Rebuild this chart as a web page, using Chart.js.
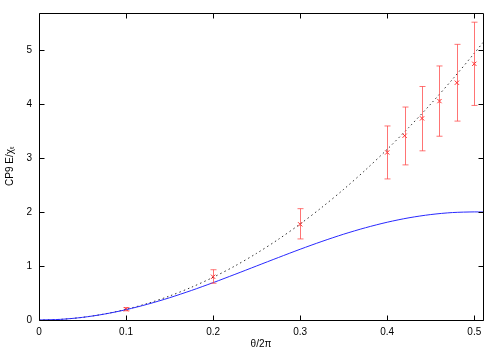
<!DOCTYPE html>
<html>
<head>
<meta charset="utf-8">
<script src="https://cdn.jsdelivr.net/npm/chart.js@4"></script>
<style>
  html, body { margin: 0; padding: 0; background: #fff; }
  #wrap { width: 500px; height: 350px; }
</style>
</head>
<body>
<div id="wrap"><canvas id="main-chart"></canvas></div>
<script>
// curve samples (theta/2pi)
const curveX = [0, 0.025, 0.05, 0.075, 0.1, 0.125, 0.15, 0.175, 0.2, 0.225, 0.25, 0.275, 0.3,
                0.325, 0.35, 0.375, 0.4, 0.425, 0.45, 0.475, 0.5, 0.51]
// blue solid curve
const blueY = [0, 0.012, 0.049, 0.109, 0.191, 0.293, 0.412, 0.546, 0.691, 0.844, 1.0, 1.156, 1.309,
               1.454, 1.588, 1.707, 1.809, 1.891, 1.951, 1.988, 2.0, 1.998]
// black dotted curve
const dottedY = [0, 0.012, 0.049, 0.111, 0.197, 0.308, 0.444, 0.605, 0.79, 0.999, 1.234, 1.493, 1.777,
                 2.085, 2.418, 2.776, 3.158, 3.566, 3.997, 4.454, 4.935, 5.134]

// measured points with errors
const pointX = [0.1, 0.2, 0.3, 0.4, 0.42, 0.44, 0.46, 0.48, 0.5]
const pointY = [0.2, 0.8, 1.77, 3.1, 3.41, 3.73, 4.05, 4.39, 4.74]
const pointLo = [0.17, 0.68, 1.5, 2.61, 2.87, 3.13, 3.4, 3.68, 3.97]
const pointHi = [0.23, 0.93, 2.06, 3.59, 3.94, 4.32, 4.7, 5.1, 5.51]

const xTicks = [0, 0.1, 0.2, 0.3, 0.4, 0.5]
const yTicks = [0, 1, 2, 3, 4, 5]

const toXY = (xs, ys) => xs.map((x, i) => ({ x: x, y: ys[i] }))

// error bars, drawn with the chart scales
const errorBars = {
    id: 'errorBars',
    afterDatasetsDraw(chart) {
        const ctx = chart.ctx
        const xs = chart.scales.x
        const ys = chart.scales.y
        ctx.save()
        ctx.strokeStyle = 'rgba(255, 70, 70, 0.75)'
        ctx.lineWidth = 1
        pointX.forEach((x, i) => {
            let px = Math.round(xs.getPixelForValue(x)) + 0.5
            let lo = ys.getPixelForValue(pointLo[i])
            let hi = ys.getPixelForValue(pointHi[i])
            ctx.beginPath()
            ctx.moveTo(px, lo); ctx.lineTo(px, hi)
            ctx.moveTo(px - 3, lo); ctx.lineTo(px + 3, lo)
            ctx.moveTo(px - 3, hi); ctx.lineTo(px + 3, hi)
            ctx.stroke()
        })
        ctx.restore()
    }
}

// gnuplot style frame with inward ticks on all sides
const frame = {
    id: 'frame',
    afterDraw(chart) {
        const ctx = chart.ctx
        const a = chart.chartArea
        const xs = chart.scales.x
        const ys = chart.scales.y
        const L = Math.round(a.left) + 0.5, R = Math.round(a.right) + 0.5
        const T = Math.round(a.top) + 0.5, B = Math.round(a.bottom) + 0.5
        ctx.save()
        ctx.strokeStyle = '#000'
        ctx.lineWidth = 1
        ctx.beginPath()
        xTicks.forEach(v => {
            let px = Math.round(xs.getPixelForValue(v)) + 0.5
            ctx.moveTo(px, B); ctx.lineTo(px, B - 5)
            ctx.moveTo(px, T); ctx.lineTo(px, T + 5)
        })
        yTicks.forEach(v => {
            let py = Math.round(ys.getPixelForValue(v)) + 0.5
            ctx.moveTo(L, py); ctx.lineTo(L + 5, py)
            ctx.moveTo(R, py); ctx.lineTo(R - 5, py)
        })
        ctx.rect(L, T, R - L, B - T)
        ctx.stroke()
        ctx.restore()
    }
}

Chart.defaults.font.family = '"Liberation Sans", Arial, sans-serif'
Chart.defaults.font.size = 10
Chart.defaults.color = '#000'

new Chart(document.getElementById('main-chart'), {
    type: 'scatter',
    data: {
        datasets: [{
            data: toXY(curveX, blueY),
            showLine: true,
            borderColor: 'rgb(40, 40, 255)',
            borderWidth: 1,
            pointRadius: 0,
            tension: 0.3
        }, {
            data: toXY(curveX, dottedY),
            showLine: true,
            borderColor: 'rgba(0, 0, 0, 0.8)',
            borderWidth: 1,
            borderDash: [1.5, 3],
            pointRadius: 0,
            tension: 0.3
        }, {
            data: toXY(pointX, pointY),
            showLine: false,
            pointStyle: 'crossRot',
            pointRadius: 3,
            borderColor: 'rgb(255, 40, 40)',
            borderWidth: 1
        }]
    },
    options: {
        responsive: true,
        maintainAspectRatio: false,
        animation: false,
        devicePixelRatio: 1,
        layout: { padding: { left: 0, right: 17, top: 12, bottom: 0 } },
        plugins: { legend: { display: false }, tooltip: { enabled: false } },
        scales: {
            x: {
                type: 'linear',
                min: 0,
                max: 0.51,
                grid: { display: false, drawTicks: false },
                border: { display: false },
                ticks: { stepSize: 0.1, includeBounds: false, padding: 6,
                         callback: v => (Math.round(v * 10) / 10).toString() },
                title: { display: true, text: 'θ/2π', padding: { top: 0, bottom: 0 } },
                afterFit: s => { s.height = 30 }
            },
            y: {
                type: 'linear',
                min: 0,
                max: 5.68,
                grid: { display: false, drawTicks: false },
                border: { display: false },
                ticks: { stepSize: 1, includeBounds: false, padding: 7 },
                title: { display: true, text: 'CP9 E/χₜ', padding: { top: 4, bottom: 0 } },
                afterFit: s => { s.width = 39 }
            }
        }
    },
    plugins: [errorBars, frame]
})
</script>
</body>
</html>
